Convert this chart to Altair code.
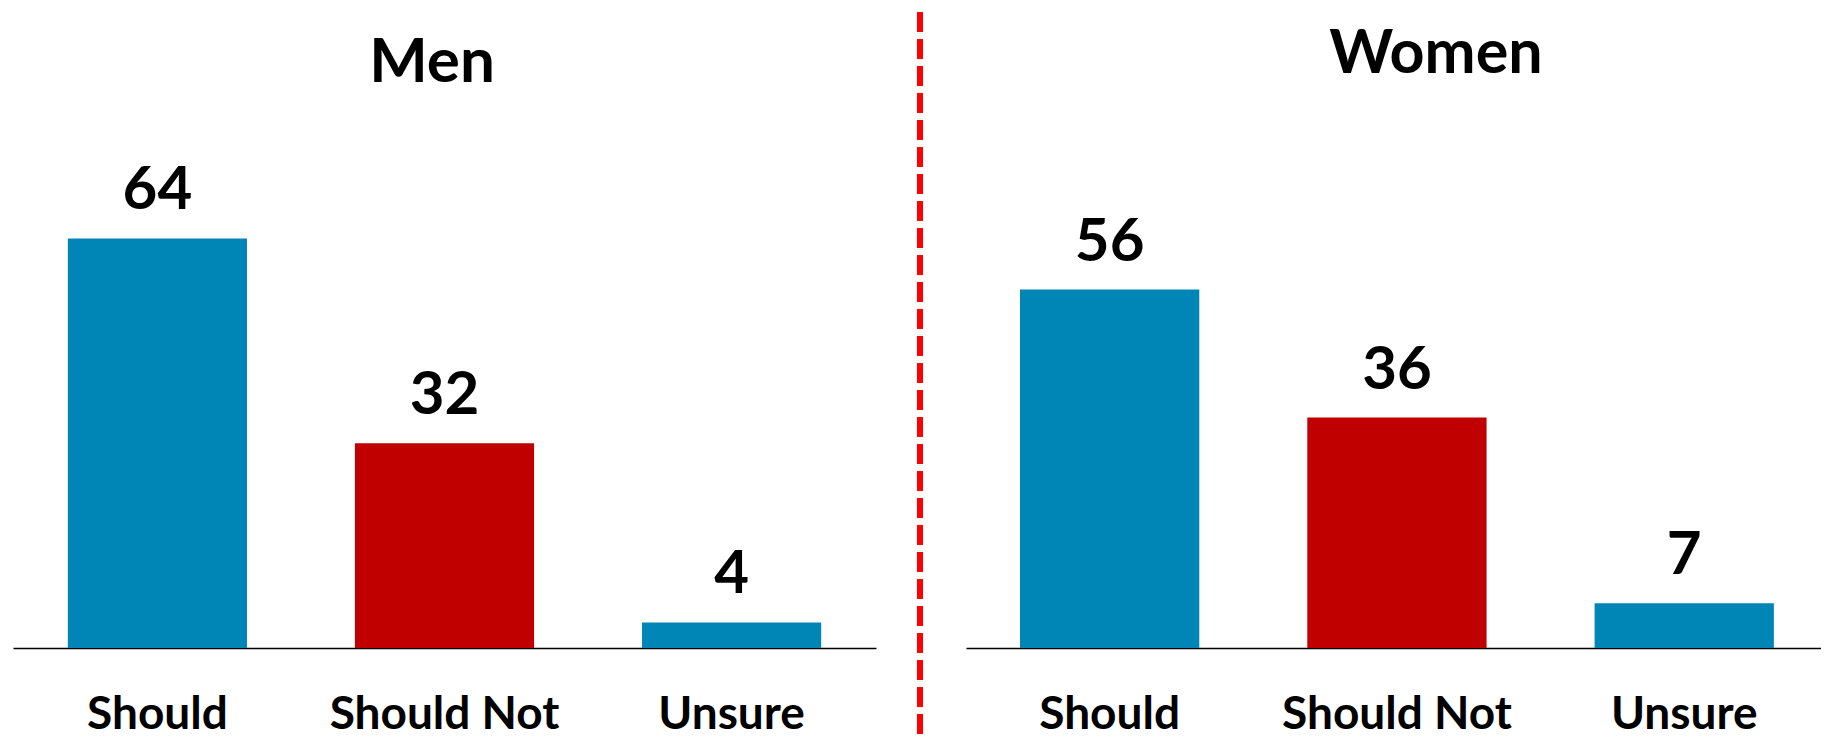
import altair as alt
import pandas as pd

# ---- data ----
categories = ["Should", "Should Not", "Unsure"]
men_values = [64, 32, 4]
women_values = [56, 36, 7]
bar_colors = ["#0086B6", "#C00000", "#0086B6"]
panel_titles = ["Men", "Women"]

FONT = "Lato"
PLOT_H = 640


def panel(values, width, scale_kw, title_text, title_size, title_level, title_dx,
          separator=False):
    df = pd.DataFrame({"answer": categories, "pct": values})
    x = alt.X(
        "answer:N",
        sort=categories,
        scale=alt.Scale(**scale_kw),
        axis=alt.Axis(
            title=None,
            labelAngle=0,
            labelFont=FONT,
            labelFontWeight="bold",
            labelFontSize=46,
            labelColor="black",
            labelBaseline="alphabetic",
            labelPadding=80,
            labelLimit=500,
            ticks=False,
            tickSize=0,
            domainColor="black",
            domainWidth=1.3,
            grid=False,
        ),
    )
    y = alt.Y("pct:Q", scale=alt.Scale(domain=[0, 100]), axis=None)
    base = alt.Chart(df)
    bars = base.mark_bar().encode(
        x=x,
        y=y,
        color=alt.Color(
            "answer:N",
            scale=alt.Scale(domain=categories, range=bar_colors),
            legend=None,
        ),
    )
    labels = base.mark_text(
        dy=-29,
        baseline="alphabetic",
        font=FONT,
        fontWeight="bold",
        fontSize=60,
        color="black",
    ).encode(x=x, y=y, text="pct:Q")
    title = alt.Chart(pd.DataFrame({"t": [title_text]})).mark_text(
        dx=title_dx,
        baseline="alphabetic",
        font=FONT,
        fontWeight="bold",
        fontSize=title_size,
        color="black",
    ).encode(
        x=alt.datum(categories[1], type="nominal"),
        y=alt.datum(title_level, type="quantitative"),
        text="t:N",
    )
    layers = [bars, labels, title]
    if separator:
        sep = alt.Chart(pd.DataFrame({"k": [0]})).mark_rule(
            color="#FF0000", strokeWidth=6, strokeDash=[20, 7]
        ).encode(x=alt.value(-46), y=alt.value(4), y2=alt.value(730))
        layers.append(sep)
    return alt.layer(*layers).properties(
        width=width,
        height=PLOT_H,
        view=alt.ViewBackground(stroke="transparent", strokeWidth=0),
    )


men = panel(men_values, 863, dict(paddingInner=0.376, paddingOuter=0.191),
            panel_titles[0], 62, 88.4, -12.5)
women = panel(women_values, 855, dict(paddingInner=0.376, paddingOuter=0.176, align=0.534),
              panel_titles[1], 61, 89.8, 39, separator=True)

chart = (
    alt.hconcat(men, women, spacing=90, bounds="flush")
    .properties(padding={"left": 5, "top": 0, "right": 0, "bottom": 0})
    .configure_view(strokeWidth=0, stroke="transparent")
    .configure(background="white")
)

chart.save("out.html", embed_options={"renderer": "svg", "actions": False})
